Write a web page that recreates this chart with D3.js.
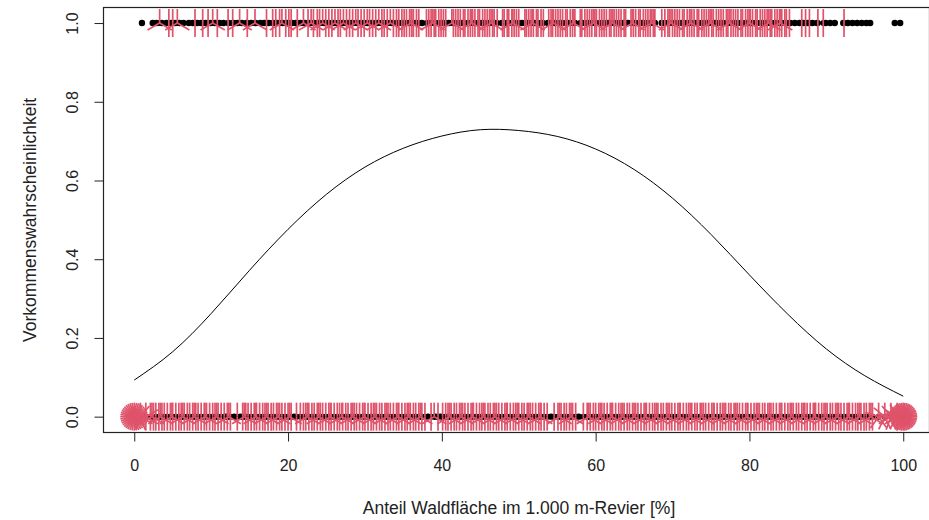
<!DOCTYPE html>
<html>
<head>
<meta charset="utf-8">
<script src="https://cdn.jsdelivr.net/npm/d3@7"></script>
<style>
  body { margin: 0; background: #fff; }
  text { font-family: "Liberation Sans", Arial, sans-serif; fill: #222; }
</style>
</head>
<body>
<div id="chart"></div>
<script>
// fitted curve (Vorkommenswahrscheinlichkeit vs. Waldanteil)
const curveX = [0, 5, 10, 15, 20, 25, 30, 35, 40, 45, 50, 55, 60, 65, 70, 75, 80, 85, 90, 95, 100];
const curveP = [0.093, 0.165, 0.262, 0.372, 0.476, 0.565, 0.634, 0.682, 0.713, 0.729, 0.727, 0.712, 0.680, 0.628, 0.555, 0.463, 0.360, 0.260, 0.172, 0.104, 0.052];

// presence (y = 1): single points
const presDots = [1.0, 2.4, 2.9, 3.6, 4.2, 4.8, 5.3, 5.9, 6.4, 7.1, 7.6, 8.2, 8.7, 9.3, 9.9, 10.5, 11.1, 11.6, 12.3, 12.9,
  13.4, 14.0, 14.6, 15.2, 15.8, 16.4, 16.9, 17.5, 18.1, 18.6, 19.3, 19.9, 20.5, 21.0, 21.6, 22.2, 22.8, 23.4, 24.0, 24.7,
  25.2, 25.9, 26.5, 27.1, 27.8, 28.3, 29.0, 29.6, 30.3, 30.9, 31.6, 32.2, 32.9, 33.5, 34.2, 34.9, 35.7, 36.6, 37.4, 38.3,
  39.1, 40.0, 40.9, 41.7, 42.6, 43.5, 44.3, 45.2, 46.0, 46.9, 47.8, 48.6, 49.5, 50.4, 51.2, 52.1, 53.0, 53.8, 54.7, 55.6,
  56.4, 57.3, 58.2, 59.0, 59.9, 60.8, 61.6, 62.5, 63.4, 64.2, 65.1, 66.0, 66.8, 67.7, 68.6, 69.4, 70.3, 71.2, 72.0, 72.9,
  73.8, 74.6, 75.5, 76.4, 77.2, 78.1, 78.9, 79.6, 80.3, 80.9, 81.5, 82.2, 82.8, 83.4, 84.1, 84.7, 85.3, 85.9, 86.5, 87.0,
  87.6, 88.2, 88.8, 89.9, 90.5, 91.1, 92.2, 92.8, 93.4, 94.0, 94.6, 95.2, 95.7, 98.9, 99.6];
// presence: duplicated values (2 and 3 per x)
const presPairs = [4.5, 5.0, 7.9, 8.9, 9.6, 10.8, 12.2, 12.8, 14.7, 17.2, 18.0, 18.4, 18.9, 19.7, 20.1, 20.4, 21.2,
  22.6, 23.3, 23.8, 24.1, 24.9, 25.3, 25.7, 26.5, 26.8, 27.6, 28.0, 28.4, 29.1, 29.5, 29.9, 30.6, 31.0, 31.4, 32.2, 32.5,
  32.9, 33.7, 34.1, 34.4, 34.8, 35.1, 35.4, 35.8, 36.1, 36.3, 36.7, 37.0, 38.0, 38.3, 38.6, 39.0, 39.2, 39.6, 39.9, 40.2,
  40.5, 41.5, 41.8, 42.1, 42.4, 42.8, 43.0, 43.4, 43.7, 44.0, 44.3, 44.7, 44.9, 45.3, 45.6, 45.9, 46.2, 46.6, 46.8, 47.2,
  47.9, 48.1, 48.5, 48.7, 49.1, 49.4, 49.7, 50.0, 50.8, 51.0, 51.3, 51.6, 51.9, 52.3, 52.5, 52.9, 53.2, 53.9, 54.2, 54.4,
  54.8, 55.1, 55.4, 55.7, 56.1, 56.3, 56.7, 57.0, 57.3, 58.0, 58.2, 58.6, 58.9, 59.2, 59.5, 59.9, 60.1, 60.5, 60.8, 61.1,
  61.4, 61.8, 62.0, 62.4, 62.7, 63.0, 63.3, 63.7, 63.9, 64.6, 64.9, 65.2, 65.6, 65.8, 66.2, 66.5, 66.8, 67.1, 67.5, 67.7,
  68.6, 69.0, 69.4, 69.6, 70.0, 70.3, 70.6, 70.9, 71.3, 71.5, 71.9, 72.2, 72.5, 72.8, 73.2, 73.4, 73.8, 74.1, 74.4, 74.7,
  75.1, 75.3, 75.7, 76.0, 76.3, 76.6, 77.0, 77.2, 77.6, 77.9, 78.2, 78.5, 78.9, 79.1, 79.5, 79.8, 80.1, 80.4, 80.8, 81.0,
  81.4, 81.7, 82.0, 82.3, 82.7, 82.9, 83.3, 83.6, 83.9, 84.2, 84.6, 84.8, 85.2, 86.8, 87.3, 87.8, 88.9, 89.6, 92.3];
const presTriples = [3.3, 5.6, 10.2, 13.7, 15.7, 19.2, 22.0, 23.0, 24.5, 26.1, 27.2, 28.8, 30.3, 31.8, 33.3, 36.0, 38.8,
  41.3, 43.9, 46.4, 49.2, 51.8, 54.5, 57.1, 59.7, 62.2, 64.8, 67.3, 69.8, 72.4, 74.9, 77.4, 80.0, 82.5, 84.0];

// absence (y = 0)
const absDots = [11.9, 13.0, 13.8, 20.8, 38.2, 39.2, 39.8, 54.2, 57.8];
const absPairs = [2.1, 2.5, 2.8, 3.2, 3.6, 3.9, 4.3, 4.7, 5.0, 5.4, 5.8, 6.1, 6.5, 6.9, 7.2, 7.6, 8.0, 8.3, 8.7, 9.1,
  9.4, 9.8, 10.2, 10.5, 10.9, 11.3, 11.7, 12.1, 12.5, 13.4, 14.1, 14.5, 14.8, 15.2, 15.6, 15.9, 16.3, 16.7, 17.0, 17.4,
  17.8, 18.1, 18.5, 18.9, 19.2, 19.6, 20.0, 20.4, 21.1, 21.6, 22.0, 22.3, 22.7, 23.1, 23.4, 23.8, 24.2, 24.5, 24.9, 25.3,
  25.6, 26.0, 26.4, 26.7, 27.1, 27.5, 27.8, 28.2, 28.6, 28.9, 29.3, 29.7, 30.0, 30.4, 30.8, 31.1, 31.5, 31.9, 32.2, 32.6,
  33.0, 33.3, 33.7, 34.1, 34.4, 34.8, 35.2, 35.5, 35.9, 36.3, 36.6, 37.0, 37.4, 37.8, 38.6, 39.5, 40.1, 40.5, 40.8, 41.2,
  41.6, 41.9, 42.3, 42.7, 43.0, 43.4, 43.8, 44.1, 44.5, 44.9, 45.2, 45.6, 46.0, 46.3, 46.7, 47.1, 47.4, 47.8, 48.2, 48.5,
  48.9, 49.3, 49.6, 50.0, 50.4, 50.7, 51.1, 51.5, 51.8, 52.2, 52.6, 52.9, 53.3, 53.7, 54.6, 55.1, 55.5, 55.9, 56.2, 56.6,
  57.0, 57.4, 58.4, 58.9, 59.3, 59.7, 60.0, 60.4, 60.8, 61.1, 61.5, 61.9, 62.2, 62.6, 63.0, 63.3, 63.7, 64.1, 64.4, 64.8,
  65.2, 65.5, 65.9, 66.3, 66.6, 67.0, 67.4, 67.7, 68.1, 68.5, 68.8, 69.2, 69.6, 69.9, 70.3, 70.7, 71.0, 71.4, 71.8, 72.1,
  72.5, 72.9, 73.2, 73.6, 74.0, 74.3, 74.7, 75.1, 75.4, 75.8, 76.2, 76.5, 76.9, 77.3, 77.6, 78.0, 78.4, 78.7, 79.1, 79.5,
  79.8, 80.2, 80.6, 80.9, 81.3, 81.7, 82.0, 82.4, 82.8, 83.1, 83.5, 83.9, 84.2, 84.6, 85.0, 85.3, 85.7, 86.1, 86.4, 86.8,
  87.2, 87.5, 87.9, 88.3, 88.6, 89.0, 89.4, 89.7, 90.1, 90.5, 90.8, 91.2, 91.6, 91.9, 92.3, 92.7, 93.0, 93.4, 93.8, 94.1,
  94.5, 94.9, 95.2, 95.6, 96.0];
const absTriples = [2.3, 3.4, 4.9, 6.3, 7.8, 9.2, 10.7, 12.3, 14.3, 15.8, 17.2, 18.7, 20.2, 22.5, 24.0, 25.5, 27.0, 28.4,
  29.9, 31.3, 32.8, 34.3, 35.7, 37.2, 39.0, 41.0, 42.5, 44.0, 45.4, 46.9, 48.4, 49.8, 51.3, 52.8, 55.3, 56.8, 59.1, 60.6,
  62.1, 63.5, 65.0, 66.5, 67.9, 69.4, 70.9, 72.3, 73.8, 75.3, 76.7, 78.2, 79.7, 81.1, 82.6, 84.1, 85.5, 87.0, 88.5, 89.9,
  91.4, 92.9, 94.3, 95.8];
const absManyX = [0, 0.8, 1.5, 96.8, 97.6, 98.4, 99.2, 100];
const absManyN = [40, 9, 6, 5, 7, 9, 12, 48];

const xTicks = [0, 20, 40, 60, 80, 100];
const yTicks = [0, 0.2, 0.4, 0.6, 0.8, 1.0];

const width = 929, height = 520;
const red = '#DF536B';
const petal = 14;

const svg = d3.select('#chart').append('svg')
    .attr('width', width)
    .attr('height', height);

svg.append('rect').attr('width', width).attr('height', height).attr('fill', '#fff');

const x = d3.scaleLinear().domain([-4, 104]).range([103.5, 934]);
const y = d3.scaleLinear().domain([-0.04, 1.04]).range([432.4, 7.3]);

// build flower list: x, y, n
const flowers = [];
presPairs.forEach(v => flowers.push({ x: v, y: 1, n: 2 }));
presTriples.forEach(v => flowers.push({ x: v, y: 1, n: 3 }));
absPairs.forEach(v => flowers.push({ x: v, y: 0, n: 2 }));
absTriples.forEach(v => flowers.push({ x: v, y: 0, n: 3 }));
absManyX.forEach((v, i) => flowers.push({ x: v, y: 0, n: absManyN[i] }));

const singles = presDots.map(v => ({ x: v, y: 1 }))
    .concat(absDots.map(v => ({ x: v, y: 0 })));

const plot = svg.append('g');

// points first (like sunflowerplot)
plot.append('g')
    .selectAll('circle')
    .data(singles)
    .join('circle')
    .attr('cx', d => x(d.x))
    .attr('cy', d => y(d.y))
    .attr('r', 3.2)
    .attr('fill', '#000');

plot.append('g')
    .selectAll('circle')
    .data(flowers)
    .join('circle')
    .attr('cx', d => x(d.x))
    .attr('cy', d => y(d.y))
    .attr('r', 3)
    .attr('fill', '#000');

// petals
const segs = [];
flowers.forEach(f => {
    for (let k = 1; k <= f.n; k++) {
        const deg = 2 * Math.PI * k / f.n;
        segs.push({ x: f.x, y: f.y, dx: petal * Math.sin(deg), dy: -petal * Math.cos(deg) });
    }
});

plot.append('g')
    .selectAll('line')
    .data(segs)
    .join('line')
    .attr('x1', d => x(d.x))
    .attr('y1', d => y(d.y))
    .attr('x2', d => x(d.x) + d.dx)
    .attr('y2', d => y(d.y) + d.dy)
    .attr('stroke', red)
    .attr('stroke-width', 1.7);

// fitted curve
const line = d3.line()
    .x(d => x(d[0]))
    .y(d => y(d[1]))
    .curve(d3.curveNatural);

plot.append('path')
    .datum(curveX.map((v, i) => [v, curveP[i]]))
    .attr('d', line)
    .attr('fill', 'none')
    .attr('stroke', '#000')
    .attr('stroke-width', 1);

// box
svg.append('rect')
    .attr('x', 103.5)
    .attr('y', 7.5)
    .attr('width', 826)
    .attr('height', 425)
    .attr('fill', 'none')
    .attr('stroke', '#222')
    .attr('stroke-width', 1.2);

// x axis
const xAxis = svg.append('g')
    .attr('transform', 'translate(0,432.5)')
    .call(d3.axisBottom(x).tickValues(xTicks).tickSize(9).tickPadding(18));
xAxis.select('.domain').remove();
xAxis.selectAll('line').attr('stroke', '#222');
xAxis.selectAll('text')
    .attr('font-size', '16px')
    .attr('font-family', '"Liberation Sans", Arial, sans-serif')
    .attr('fill', '#222');

// y axis, labels rotated like R's las = 0
const yAxis = svg.append('g')
    .attr('transform', 'translate(103.5,0)')
    .call(d3.axisLeft(y).tickValues(yTicks).tickSize(9).tickFormat(d3.format('.1f')));
yAxis.select('.domain').remove();
yAxis.selectAll('line').attr('stroke', '#222');
yAxis.selectAll('.tick text')
    .attr('x', null)
    .attr('dy', 0)
    .attr('text-anchor', 'middle')
    .attr('transform', 'translate(-25.5,0) rotate(-90)')
    .attr('font-size', '16px')
    .attr('font-family', '"Liberation Sans", Arial, sans-serif')
    .attr('fill', '#222');

// axis titles
svg.append('text')
    .attr('x', 519)
    .attr('y', 514)
    .attr('text-anchor', 'middle')
    .attr('font-size', '17.5px')
    .text('Anteil Waldfläche im 1.000 m-Revier [%]');

svg.append('text')
    .attr('transform', `translate(36,${y(0.5)}) rotate(-90)`)
    .attr('text-anchor', 'middle')
    .attr('font-size', '17.5px')
    .text('Vorkommenswahrscheinlichkeit');
</script>
</body>
</html>
